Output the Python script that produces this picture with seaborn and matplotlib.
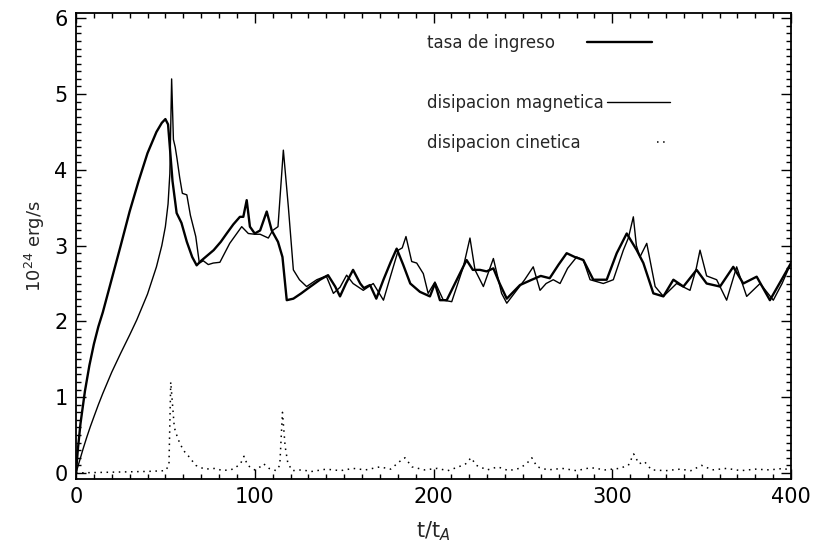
import matplotlib
matplotlib.use("Agg")
import matplotlib.pyplot as plt
from matplotlib.ticker import MultipleLocator
import seaborn as sns

# ---- data ----
t_ingreso = [0, 1, 2.5, 5, 7.5, 10, 12.5, 15, 20, 25, 30, 35, 40, 45, 48, 50, 51.5, 52.5, 54, 56.3, 59, 62,
             65, 67.5, 70, 73, 77, 81, 84.3, 88, 91.7, 93.6, 95.5, 97.3, 100, 103, 106.7, 109.5, 113, 115.5, 117.9, 121.6,
             126, 130, 136.5, 141, 145, 147.7, 151, 155, 159, 161, 164.5, 168, 172, 176, 179.4, 183, 187, 192.4, 198, 200.8,
             203.6, 207.4, 212, 218.5, 222, 226, 229.7, 233.5, 237, 241, 248.4, 255, 260, 265, 270, 274.5, 279, 283.8, 289.4, 296.9,
             302.5, 308.1, 313.7, 317.4, 323, 328.6, 334.2, 339.8, 347.2, 352.8, 360.3, 367.7, 373.3, 380.8, 388.2, 395.7, 400]
y_ingreso = [0, 0.3, 0.65, 1.08, 1.42, 1.7, 1.93, 2.12, 2.56, 3.0, 3.45, 3.85, 4.22, 4.5, 4.62, 4.67, 4.6, 4.3, 3.85, 3.43, 3.3, 3.05,
             2.85, 2.74, 2.8, 2.86, 2.94, 3.05, 3.16, 3.28, 3.38, 3.38, 3.6, 3.25, 3.16, 3.2, 3.45, 3.2, 3.05, 2.85, 2.28, 2.3,
             2.37, 2.44, 2.55, 2.61, 2.46, 2.33, 2.5, 2.68, 2.5, 2.44, 2.48, 2.3, 2.55, 2.78, 2.96, 2.75, 2.5, 2.39, 2.33, 2.5,
             2.28, 2.28, 2.5, 2.81, 2.68, 2.68, 2.66, 2.7, 2.5, 2.3, 2.48, 2.55, 2.6, 2.57, 2.75, 2.9, 2.85, 2.81, 2.55, 2.55,
             2.9, 3.16, 2.94, 2.77, 2.37, 2.33, 2.55, 2.46, 2.68, 2.5, 2.46, 2.72, 2.5, 2.59, 2.28, 2.59, 2.77]

t_magnetica = [0, 2, 4, 6, 8, 10, 12.5, 15, 20, 25, 30, 34, 40, 45, 48, 50, 51.5, 52.5, 53.5, 54.5, 55.5, 56.5, 58,
               59.5, 62, 64, 67, 69, 71.2, 74, 76.8, 80.5, 86, 92.7, 96.4, 100, 103, 107.6, 110, 113, 116, 118.8, 121.6,
               125, 129, 134.7, 140, 144, 147.7, 151.4, 155, 160.7, 166.3, 172, 176, 180.3, 182.5, 184.6, 187.8, 190.6, 194.3, 197, 200.8,
               205.5, 210.2, 216.7, 220.4, 223.2, 227.9, 233.5, 238.1, 241, 246.5, 251, 255.8, 259.6, 263, 267, 270.8, 275, 280.1, 283.8, 287.6,
               295, 300.6, 306.2, 309, 311.8, 313.5, 315.5, 319.3, 324, 328.6, 336, 343.5, 347, 349.1, 352.8, 358.4, 364, 369.6, 375.2, 382.7,
               390.1, 395, 400]
y_magnetica = [0, 0.16, 0.32, 0.47, 0.61, 0.74, 0.9, 1.05, 1.33, 1.58, 1.82, 2.02, 2.36, 2.72, 3.0, 3.25, 3.55, 3.95, 5.2, 4.4, 4.3, 4.15, 3.9,
               3.69, 3.67, 3.4, 3.12, 2.77, 2.8, 2.75, 2.77, 2.78, 3.03, 3.25, 3.16, 3.15, 3.15, 3.1, 3.2, 3.25, 4.26, 3.51, 2.68,
               2.55, 2.46, 2.55, 2.6, 2.37, 2.45, 2.61, 2.5, 2.41, 2.5, 2.28, 2.6, 2.94, 2.97, 3.12, 2.79, 2.77, 2.63, 2.37, 2.52,
               2.28, 2.26, 2.72, 3.1, 2.68, 2.46, 2.83, 2.37, 2.24, 2.41, 2.55, 2.72, 2.41, 2.5, 2.55, 2.5, 2.7, 2.85, 2.81, 2.55,
               2.5, 2.55, 2.94, 3.1, 3.38, 3.0, 2.85, 3.03, 2.46, 2.33, 2.5, 2.41, 2.7, 2.94, 2.6, 2.55, 2.28, 2.72, 2.33, 2.5,
               2.28, 2.5, 2.77]

t_cinetica = [0, 20, 40, 50, 52, 53, 54, 55, 57, 60, 63, 67, 72, 78, 82, 88, 92, 94, 96, 100,
              103, 105, 108, 112, 114, 115.5, 117, 118.5, 121, 126, 132, 140, 148, 155, 162, 170, 176, 181, 184, 188,
              195, 202, 208, 214, 218, 221, 224, 230, 236, 242, 248, 252, 255, 258, 264, 272, 280, 288, 296, 304,
              309, 312, 315, 318, 322, 330, 338, 344, 350, 356, 364, 372, 380, 388, 396, 400]
y_cinetica = [0, 0.01, 0.02, 0.03, 0.1, 1.2, 0.9, 0.6, 0.45, 0.3, 0.22, 0.1, 0.05, 0.06, 0.03, 0.05, 0.12, 0.22, 0.1, 0.04,
              0.08, 0.12, 0.06, 0.03, 0.1, 0.8, 0.35, 0.13, 0.03, 0.04, 0.02, 0.05, 0.03, 0.06, 0.04, 0.08, 0.05, 0.15, 0.2, 0.08,
              0.04, 0.06, 0.03, 0.08, 0.12, 0.2, 0.1, 0.04, 0.08, 0.03, 0.06, 0.12, 0.2, 0.08, 0.04, 0.06, 0.03, 0.07, 0.04, 0.06,
              0.1, 0.25, 0.12, 0.15, 0.04, 0.03, 0.05, 0.03, 0.1, 0.04, 0.06, 0.03, 0.05, 0.04, 0.06, 0.03]

labels = ["tasa de ingreso", "disipacion magnetica", "disipacion cinetica"]
x_ticks = [0, 100, 200, 300, 400]
y_ticks = [0, 1, 2, 3, 4, 5, 6]

# ---- figure ----
sns.set_style("ticks")
plt.rcParams["font.family"] = ["DejaVu Sans"]

fig = plt.figure(figsize=(8.18, 5.54), dpi=100)
ax = fig.add_axes([76 / 818, 1 - 479 / 554, (791 - 76) / 818, (479 - 13) / 554])

sns.lineplot(x=t_ingreso, y=y_ingreso, ax=ax, color="black", linewidth=1.7, label=labels[0])
sns.lineplot(x=t_magnetica, y=y_magnetica, ax=ax, color="black", linewidth=1.0, label=labels[1])
sns.lineplot(x=t_cinetica, y=y_cinetica, ax=ax, color="black", linewidth=1.1,
             linestyle=(0, (1, 3)), label=labels[2])

ax.set_xlim(0, 400)
ax.set_ylim(-0.08, 6.07)
ax.set_xticks(x_ticks)
ax.set_yticks(y_ticks)
ax.xaxis.set_minor_locator(MultipleLocator(10))
ax.yaxis.set_minor_locator(MultipleLocator(0.1))
ax.tick_params(which="both", direction="in", top=True, right=True, width=1.0, colors="black")
ax.tick_params(which="major", length=7, labelsize=15, pad=6)
ax.tick_params(which="minor", length=3.5)
for s in ax.spines.values():
    s.set_linewidth(1.3)
    s.set_color("black")

ax.set_xlabel("t/t$_A$", fontsize=15, labelpad=9)
ax.set_ylabel("10$^{24}$ erg/s", fontsize=13, labelpad=5)

# legend: three single-entry legends (text first, line sample after)
handles = ax.get_lines()[:3]
ax.get_legend().remove()
rows = [(0.491, 0.936, 1.9, 3.9), (0.491, 0.807, 0.2, 3.8), (0.491, 0.721, 4.6, 0.6)]
for i, (h, lab, (xa, ya, pad, hl)) in enumerate(zip(handles, labels, rows)):
    lg = ax.legend([h], [lab], loc="center left", bbox_to_anchor=(xa, ya), frameon=False,
                   markerfirst=False, fontsize=12, handletextpad=pad, handlelength=hl,
                   borderpad=0, borderaxespad=0)
    if i < len(rows) - 1:
        ax.add_artist(lg)

fig.savefig("out.png", dpi=100)
